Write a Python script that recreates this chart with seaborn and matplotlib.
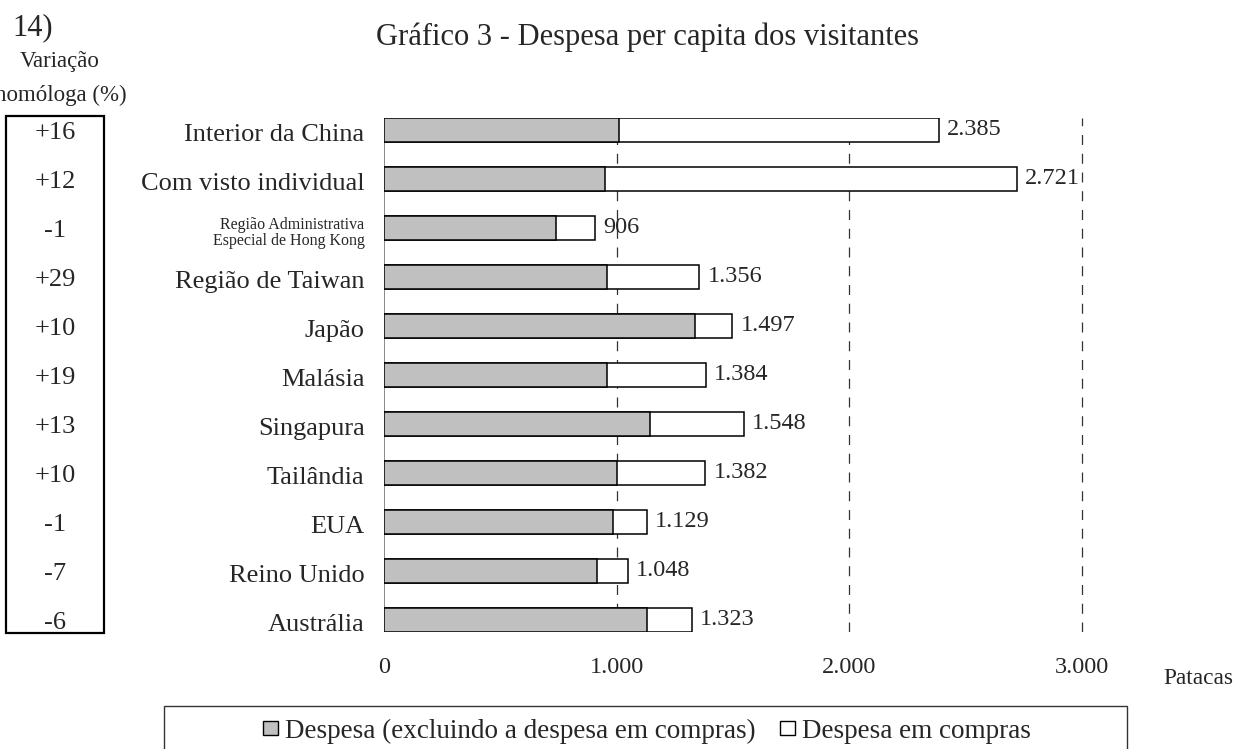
import matplotlib
matplotlib.use("Agg")
import matplotlib.pyplot as plt
import matplotlib.transforms as mtransforms
from matplotlib.patches import Rectangle, Patch
import seaborn as sns
import pandas as pd

# ---- data ----
categories = ["Interior da China", "Com visto individual",
              "Região Administrativa\nEspecial de Hong Kong", "Região de Taiwan",
              "Japão", "Malásia", "Singapura", "Tailândia", "EUA",
              "Reino Unido", "Austrália"]
totals = [2385, 2721, 906, 1356, 1497, 1384, 1548, 1382, 1129, 1048, 1323]
excl_compras = [1011, 951, 738, 958, 1336, 958, 1143, 1004, 985, 918, 1131]
variacao = ["+16", "+12", "-1", "+29", "+10", "+19", "+13", "+10", "-1", "-7", "-6"]
xticks = [0, 1000, 2000, 3000]
xticklabels = ["0", "1.000", "2.000", "3.000"]
title = "Gráfico 3 - Despesa per capita dos visitantes"
legend_labels = ["Despesa (excluindo a despesa em compras)", "Despesa em compras"]

df = pd.DataFrame({"cat": categories, "total": totals, "excl": excl_compras})

sns.set_theme(style="white")
plt.rcParams["font.family"] = ["Liberation Serif", "DejaVu Serif"]

W, H = 1236, 749
px_per_unit = (1081.7 - 384) / 3000
xmax = 3100
fig = plt.figure(figsize=(W / 100, H / 100), dpi=100)
ax = fig.add_axes([384 / W, 1 - 632 / H, xmax * px_per_unit / W, (632 - 117.5) / H])

bw = 0.49
sns.barplot(data=df, x="total", y="cat", orient="h", color="white", saturation=1,
            edgecolor="black", linewidth=1.1, width=bw, ax=ax, zorder=2)
sns.barplot(data=df, x="excl", y="cat", orient="h", color="#c0c0c0", saturation=1,
            edgecolor="black", linewidth=1.1, width=bw, ax=ax, zorder=3)

# value labels on totals
tot_container = ax.containers[0]
ax.bar_label(tot_container, labels=[f"{v:,}".replace(",", ".") for v in totals],
             padding=6, fontsize=17.5)

ax.set_xlim(0, xmax)
ax.set_ylim(len(categories) - 1 + bw / 2, -bw / 2)
for x in xticks[1:]:
    ax.axvline(x, color="#333333", lw=0.9, ls=(0, (8, 7)), zorder=0.5)
ax.axvline(0, color="#808080", lw=1.3, zorder=0.5)

for s in ax.spines.values():
    s.set_visible(False)
ax.grid(False)
ax.set_xlabel("")
ax.set_ylabel("")
ax.set_xticks(xticks)
ax.set_xticklabels(xticklabels, fontsize=17.5)
ax.tick_params(axis="x", length=0, pad=18)
ax.tick_params(axis="y", length=0, pad=14, labelsize=19)
shift = mtransforms.ScaledTranslation(0, -3 / 100, fig.dpi_scale_trans)
for lab in ax.get_yticklabels():
    lab.set_transform(lab.get_transform() + shift)
    if "Hong Kong" in lab.get_text():
        lab.set_fontsize(11.5)
        lab.set_linespacing(1.05)

# left box with year-on-year variation
trans = mtransforms.blended_transform_factory(fig.transFigure, ax.transData) + shift
for i, v in enumerate(variacao):
    ax.text(55 / W, i, v, transform=trans, ha="center", va="center", fontsize=19,
            clip_on=False)
fig.patches.append(Rectangle((6 / W, 1 - 633 / H), (104 - 6) / W, (633 - 116) / H,
                             transform=fig.transFigure, fill=False,
                             edgecolor="black", lw=1.6))

fig.text(12 / W, 1 - 28 / H, "14)", ha="left", va="center", fontsize=22)
fig.text(60 / W, 1 - 62 / H, "Variação", ha="center", va="center", fontsize=16.5)
fig.text(61 / W, 1 - 95 / H, "homóloga (%)", ha="center", va="center", fontsize=16.5)
fig.text(647 / W, 1 - 45 / H, title, ha="center", va="baseline", fontsize=22)
fig.text(1198 / W, 1 - 679 / H, "Patacas", ha="center", va="center", fontsize=16.8)

# legend box (cut by the bottom of the figure)
fig.patches.append(Rectangle((164 / W, -0.02), (1127 - 164) / W, 0.02 + 1 - 706 / H,
                             transform=fig.transFigure, fill=False,
                             edgecolor="#333333", lw=1.0))
handles = [Patch(facecolor="#c0c0c0", edgecolor="black", lw=1.0),
           Patch(facecolor="white", edgecolor="black", lw=1.0)]
fig.legend(handles, legend_labels, loc="center", bbox_to_anchor=(647 / W, 1 - 731 / H),
           ncol=2, frameon=False, fontsize=19.5, handlelength=0.55, handleheight=0.42,
           handletextpad=0.25, columnspacing=0.9, borderpad=0, borderaxespad=0)

fig.savefig("out.png", dpi=100)
